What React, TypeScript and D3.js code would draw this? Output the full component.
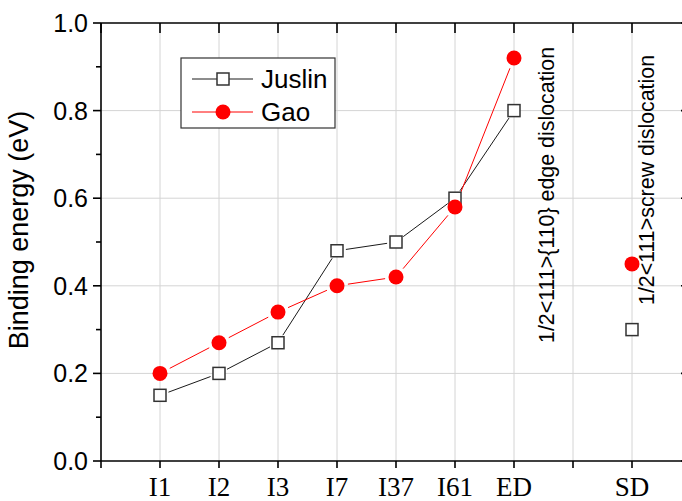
import React from "react";
import * as d3 from "d3";

// Categories along the x axis (position 8 is left empty before SD)
const categories = ["I1", "I2", "I3", "I7", "I37", "I61", "ED", "SD"];
const categoryPos = [1, 2, 3, 4, 5, 6, 7, 9];

// Binding energies (eV)
const juslin = [0.15, 0.2, 0.27, 0.48, 0.5, 0.6, 0.8, 0.3];
const gao = [0.2, 0.27, 0.34, 0.4, 0.42, 0.58, 0.92, 0.45];

// Number of leading points joined by a line (SD stands alone)
const connectedCount = 7;

const yTicks = [0, 0.2, 0.4, 0.6, 0.8, 1.0];
const yMinorTicks = [0.1, 0.3, 0.5, 0.7, 0.9];
const xTicks = [0, 1, 2, 3, 4, 5, 6, 7, 8, 9, 10];

const edgeLabel = "1/2<111>{110} edge dislocation";
const screwLabel = "1/2<111>screw dislocation";

const W = 682;
const H = 501;
const left = 101;
const right = 691;
const top = 23;
const bottom = 461;

const x = d3.scaleLinear().domain([0, 10]).range([left, right]);
const y = d3.scaleLinear().domain([0, 1]).range([bottom, top]);

const gridColor = "#d4d4d4";
const sans = "Arial, 'Liberation Sans', Helvetica, sans-serif";
const serif = "'Times New Roman', 'Liberation Serif', Times, serif";

type Pt = [number, number];

function gappedSegments(pts: Pt[], gap: number) {
  const segs: { x1: number; y1: number; x2: number; y2: number }[] = [];
  for (let i = 0; i < pts.length - 1; i++) {
    const [ax, ay] = pts[i];
    const [bx, by] = pts[i + 1];
    const dx = bx - ax;
    const dy = by - ay;
    const len = Math.hypot(dx, dy);
    if (len <= 2 * gap) continue;
    const ux = dx / len;
    const uy = dy / len;
    segs.push({
      x1: ax + ux * gap,
      y1: ay + uy * gap,
      x2: bx - ux * gap,
      y2: by - uy * gap,
    });
  }
  return segs;
}

export default function App() {
  const jPts: Pt[] = juslin.map((v, i) => [x(categoryPos[i]), y(v)]);
  const gPts: Pt[] = gao.map((v, i) => [x(categoryPos[i]), y(v)]);

  const jSegs = gappedSegments(jPts.slice(0, connectedCount), 9);
  const gSegs = gappedSegments(gPts.slice(0, connectedCount), 11);

  const sq = 12;
  const r = 7.5;

  const legX = 181;
  const legY = 58;

  return (
    <svg
      width={W}
      height={H}
      style={{ position: "fixed", left: 0, top: 0, background: "#fff" }}
    >
      <rect x={0} y={0} width={W} height={H} fill="#fff" />
      <defs>
        <clipPath id="plot">
          <rect x={left} y={top} width={right - left} height={bottom - top} />
        </clipPath>
      </defs>

      {/* grid */}
      <g stroke={gridColor} strokeWidth={1}>
        {xTicks
          .filter((t) => t > 0 && t < 10)
          .map((t) => (
            <line key={"gx" + t} x1={x(t)} x2={x(t)} y1={top} y2={bottom} />
          ))}
        {yTicks
          .filter((t) => t > 0 && t < 1)
          .map((t) => (
            <line key={"gy" + t} x1={left} x2={right} y1={y(t)} y2={y(t)} />
          ))}
      </g>

      {/* series lines */}
      <g clipPath="url(#plot)">
        {jSegs.map((s, i) => (
          <line key={"js" + i} {...s} stroke="#1a1a1a" strokeWidth={1} />
        ))}
        {gSegs.map((s, i) => (
          <line key={"gs" + i} {...s} stroke="#ff0000" strokeWidth={1} />
        ))}
      </g>

      {/* markers */}
      {jPts.map(([px, py], i) => (
        <rect
          key={"jm" + i}
          x={px - sq / 2}
          y={py - sq / 2}
          width={sq}
          height={sq}
          fill="#fff"
          stroke="#333"
          strokeWidth={1.5}
        />
      ))}
      {gPts.map(([px, py], i) => (
        <circle key={"gm" + i} cx={px} cy={py} r={r} fill="#ff0000" />
      ))}

      {/* frame */}
      <g stroke="#000" strokeWidth={1.6} fill="none">
        <line x1={left} x2={right} y1={bottom} y2={bottom} />
        <line x1={left} x2={right} y1={top} y2={top} />
        <line x1={left} x2={left} y1={top} y2={bottom} />
        <line x1={right} x2={right} y1={top} y2={bottom} />
      </g>

      {/* ticks */}
      <g stroke="#000" strokeWidth={1.6}>
        {yTicks.map((t) => (
          <line key={"ly" + t} x1={left - 8} x2={left} y1={y(t)} y2={y(t)} />
        ))}
        {yMinorTicks.map((t) => (
          <line key={"lym" + t} x1={left - 5} x2={left} y1={y(t)} y2={y(t)} />
        ))}
        {yTicks.map((t) => (
          <line key={"ry" + t} x1={right - 10} x2={right} y1={y(t)} y2={y(t)} />
        ))}
        {xTicks.map((t) => (
          <line key={"bx" + t} x1={x(t)} x2={x(t)} y1={bottom} y2={bottom + 7} />
        ))}
        {xTicks.map((t) => (
          <line key={"tx" + t} x1={x(t)} x2={x(t)} y1={top} y2={top + 10} />
        ))}
      </g>

      {/* y tick labels */}
      <g fontFamily={sans} fontSize={25} fill="#000" textAnchor="end">
        {yTicks.map((t) => (
          <text key={"yl" + t} x={left - 13} y={y(t)} dy="0.36em">
            {d3.format(".1f")(t)}
          </text>
        ))}
      </g>

      {/* x tick labels */}
      <g fontFamily={serif} fontSize={27} fill="#000" textAnchor="middle">
        {categories.map((c, i) => (
          <text key={"xl" + c} x={x(categoryPos[i])} y={bottom + 35}>
            {c}
          </text>
        ))}
      </g>

      {/* y axis title */}
      <text
        transform={`translate(28, 230) rotate(-90)`}
        textAnchor="middle"
        fontFamily={sans}
        fontSize={27}
        fill="#000"
      >
        Binding energy (eV)
      </text>

      {/* dislocation labels */}
      <text
        transform={`translate(${x(7) + 40}, 343) rotate(-90)`}
        fontFamily={sans}
        fontSize={21.4}
        fill="#000"
      >
        {edgeLabel}
      </text>
      <text
        transform={`translate(${x(9) + 22}, 305) rotate(-90)`}
        fontFamily={sans}
        fontSize={21.4}
        fill="#000"
      >
        {screwLabel}
      </text>

      {/* legend */}
      <g>
        <rect
          x={legX}
          y={legY}
          width={154}
          height={70}
          fill="#fff"
          stroke="#333"
          strokeWidth={1.2}
        />
        <line x1={legX + 11} x2={legX + 72} y1={legY + 21} y2={legY + 21} stroke="#1a1a1a" strokeWidth={1} />
        <rect
          x={legX + 42 - 6}
          y={legY + 21 - 6}
          width={12}
          height={12}
          fill="#fff"
          stroke="#333"
          strokeWidth={1.5}
        />
        <text x={legX + 80} y={legY + 21} dy="0.36em" fontFamily={sans} fontSize={26}>
          Juslin
        </text>
        <line x1={legX + 11} x2={legX + 72} y1={legY + 54} y2={legY + 54} stroke="#ff0000" strokeWidth={1} />
        <circle cx={legX + 42} cy={legY + 54} r={r} fill="#ff0000" />
        <text x={legX + 80} y={legY + 54} dy="0.36em" fontFamily={sans} fontSize={26}>
          Gao
        </text>
      </g>
    </svg>
  );
}
